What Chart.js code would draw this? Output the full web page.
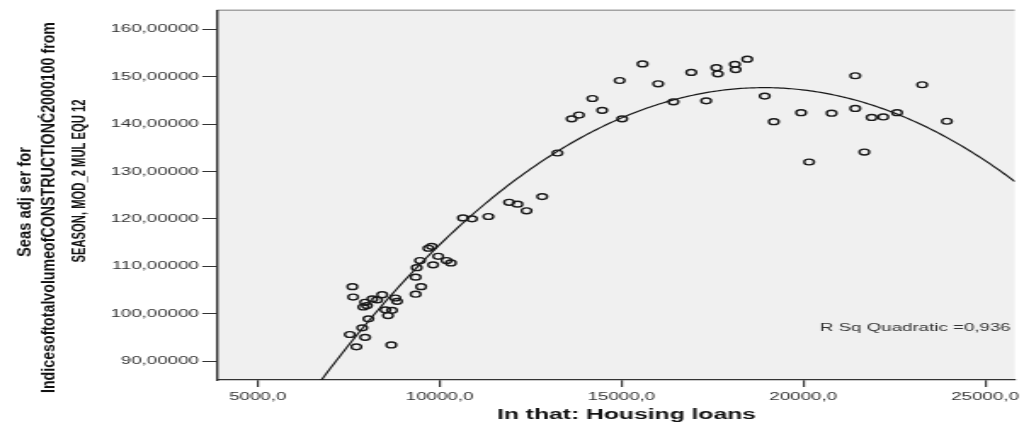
<!DOCTYPE html>
<html>
<head>
<meta charset="utf-8">
<script src="https://cdn.jsdelivr.net/npm/chart.js@4.4.1/dist/chart.umd.min.js"></script>
<style>
  html, body { margin: 0; padding: 0; background: #ffffff; overflow: hidden; }
  /* the drawing surface is widened horizontally to the full page width */
  #c { display: block; width: 1024px !important; height: 425px !important; }
</style>
</head>
<body>
<canvas id="c" width="602" height="425" style="width:1024px;height:425px"></canvas>
<script>
// Observations: housing loans (x) against the seasonally adjusted construction index (y)
const housingLoans = [
  7600, 7620, 7950, 8150, 8280, 8420, 7900, 8000, 8780, 8830,
  8510, 8690, 8580, 8040, 7870, 7530, 7950, 7710, 8670, 9340,
  9490, 9340, 9370, 9460, 9820, 9960, 10190, 10310, 9690, 9780,
  10640, 10890, 11340, 11910, 12140, 12390, 12820, 13240, 13630, 13830,
  14200, 14470, 15020, 14950, 15580, 16010, 16430, 16920, 17330, 17610,
  17650, 18120, 18140, 18460, 18940, 19190, 19940, 20160, 20780, 21430,
  21430, 21680, 21880, 22200, 22580, 23270, 23950
];
const constructionIndex = [
  105.7, 103.5, 102.4, 103.1, 102.9, 104.0, 101.4, 101.7, 103.3, 102.6,
  100.8, 100.7, 99.6, 98.9, 97.0, 95.6, 95.0, 93.0, 93.4, 104.1,
  105.7, 107.7, 109.7, 111.2, 110.3, 112.1, 111.2, 110.7, 113.8, 114.2,
  120.2, 120.0, 120.5, 123.5, 123.1, 121.7, 124.7, 133.9, 141.1, 141.9,
  145.4, 142.9, 141.1, 149.2, 152.7, 148.5, 144.7, 150.9, 144.9, 151.9,
  150.6, 152.6, 151.5, 153.7, 145.9, 140.5, 142.4, 132.0, 142.3, 150.2,
  143.3, 134.1, 141.4, 141.5, 142.4, 148.3, 140.6
];
const xTickValues = [5000, 10000, 15000, 20000, 25000];
const yTickValues = [90, 100, 110, 120, 130, 140, 150, 160];

const xTitle = 'In that: Housing loans';
const yTitleLines = [
  'Seas adj ser for',
  'IndicesoftotalvolumeofCONSTRUCTIONĆ2000100 from',
  'SEASON, MOD_2 MUL EQU 12'
];
const fitLabel = 'R Sq Quadratic =0,936';

// Axis ranges
const X_MIN = 3869, X_MAX = 25818;
const Y_MIN = 86.0, Y_MAX = 163.86;

// Quadratic least-squares fit of the observations (x rescaled for stability)
function quadraticFit(xs, ys) {
  const k = 10000;
  let s = [0, 0, 0, 0, 0], t = [0, 0, 0];
  for (let i = 0; i < xs.length; i++) {
    const u = xs[i] / k;
    let p = 1;
    for (let j = 0; j < 5; j++) { s[j] += p; if (j < 3) t[j] += p * ys[i]; p *= u; }
  }
  const m = [
    [s[0], s[1], s[2], t[0]],
    [s[1], s[2], s[3], t[1]],
    [s[2], s[3], s[4], t[2]]
  ];
  for (let c = 0; c < 3; c++) {
    for (let r = c + 1; r < 3; r++) {
      const f = m[r][c] / m[c][c];
      for (let q = c; q < 4; q++) m[r][q] -= f * m[c][q];
    }
  }
  const b = [0, 0, 0];
  for (let r = 2; r >= 0; r--) {
    let v = m[r][3];
    for (let q = r + 1; q < 3; q++) v -= m[r][q] * b[q];
    b[r] = v / m[r][r];
  }
  return x => { const u = x / k; return b[0] + b[1] * u + b[2] * u * u; };
}

const fit = quadraticFit(housingLoans, constructionIndex);
const curve = [];
for (let i = 0; i <= 300; i++) {
  const x = X_MIN + (X_MAX - X_MIN) * i / 300;
  curve.push({ x: x, y: fit(x) });
}
const points = housingLoans.map((x, i) => ({ x: x, y: constructionIndex[i] }));

const FONT = "'Liberation Sans', Arial, Helvetica, sans-serif";

// Plot background, top frame line and the free-standing texts
const decor = {
  id: 'decor',
  beforeDraw(chart) {
    const { ctx, chartArea: a } = chart;
    ctx.save();
    ctx.fillStyle = '#f0f0f0';
    ctx.fillRect(a.left, a.top, a.right - a.left, a.bottom - a.top);
    ctx.fillStyle = '#a3a3a3';
    ctx.fillRect(a.left, a.top - 1.5, a.right - a.left, 1.5);
    ctx.restore();
  },
  afterDraw(chart) {
    const { ctx } = chart;
    ctx.save();
    ctx.fillStyle = '#111';
    // rotated axis title, one call per line: [centre x, centre y, drawn length]
    const layout = [[15.0, 202, 110], [28.8, 207.5, 371], [46.7, 181, 163]];
    yTitleLines.forEach((line, i) => {
      const [cx, cy, len] = layout[i];
      ctx.save();
      ctx.translate(cx, cy);
      ctx.rotate(-Math.PI / 2);
      ctx.font = 'bold 10.5px ' + FONT;
      const w = ctx.measureText(line).width;
      ctx.scale(len / w, 1);
      ctx.textAlign = 'center';
      ctx.textBaseline = 'middle';
      ctx.fillText(line, 0, 0);
      ctx.restore();
    });
    ctx.font = 'bold 14.5px ' + FONT;
    ctx.textAlign = 'center';
    ctx.textBaseline = 'middle';
    ctx.fillText(xTitle, 368.3, 415);
    ctx.font = '11px ' + FONT;
    ctx.fillStyle = '#333';
    ctx.textAlign = 'left';
    ctx.fillText(fitLabel, 482, 328);
    ctx.restore();
  }
};

new Chart(document.getElementById('c'), {
  type: 'scatter',
  data: {
    datasets: [
      {
        type: 'line',
        data: curve,
        borderColor: '#1a1a1a',
        borderWidth: 1.2,
        pointRadius: 0,
        fill: false,
        tension: 0,
        order: 1
      },
      {
        data: points,
        pointStyle: 'circle',
        pointRadius: 2.9,
        pointBorderWidth: 1.4,
        borderColor: '#1a1a1a',
        backgroundColor: 'rgba(0,0,0,0)',
        order: 0
      }
    ]
  },
  options: {
    responsive: false,
    animation: false,
    devicePixelRatio: 1,
    layout: { padding: { left: 0, right: 0, top: 11, bottom: 0 } },
    plugins: { legend: { display: false }, tooltip: { enabled: false } },
    scales: {
      x: {
        type: 'linear',
        min: X_MIN,
        max: X_MAX,
        afterBuildTicks: s => { s.ticks = xTickValues.map(v => ({ value: v })); },
        afterFit: s => { s.height = 45; s.paddingLeft = 0; s.paddingRight = 0; },
        grid: { drawOnChartArea: false, drawTicks: true, tickLength: 7, color: '#333', lineWidth: 1.2 },
        border: { display: true, color: '#333', width: 1.3 },
        ticks: {
          padding: 3,
          color: '#333',
          font: { family: FONT, size: 11 },
          maxRotation: 0,
          autoSkip: false,
          callback: v => Number(v).toFixed(1).replace('.', ',')
        }
      },
      y: {
        type: 'linear',
        min: Y_MIN,
        max: Y_MAX,
        afterBuildTicks: s => { s.ticks = yTickValues.map(v => ({ value: v })); },
        afterFit: s => { s.width = 127.4; s.paddingTop = 0; s.paddingBottom = 0; },
        grid: { drawOnChartArea: false, drawTicks: true, tickLength: 8.5, color: '#333', lineWidth: 1 },
        border: { display: true, color: '#333', width: 1.4 },
        ticks: {
          padding: 2,
          color: '#333',
          font: { family: FONT, size: 11 },
          autoSkip: false,
          callback: v => Number(v).toFixed(5).replace('.', ',')
        }
      }
    }
  },
  plugins: [decor]
});
</script>
</body>
</html>
